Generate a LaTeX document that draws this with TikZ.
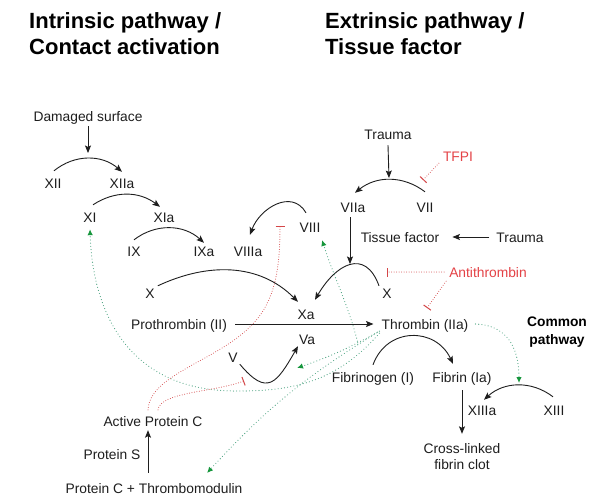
\documentclass[tikz,border=0pt]{standalone}
\usepackage{fontspec}
\setmainfont{Liberation Sans}
\usetikzlibrary{arrows.meta}
\definecolor{ink}{RGB}{30,30,30}
\definecolor{rtext}{RGB}{228,66,70}
\definecolor{rline}{RGB}{212,70,72}
\definecolor{gline}{RGB}{70,160,125}
\definecolor{gtip}{RGB}{22,150,60}
\begin{document}
\begin{tikzpicture}[x=1pt,y=-1pt,
  lbl/.style={inner sep=2pt,text height=10pt,text depth=0pt,font=\fontsize{13.8}{16}\selectfont,text=ink},
  rlbl/.style={lbl,text=rtext},
  ttl/.style={inner sep=0pt,anchor=base west,font=\fontsize{22}{26}\selectfont\bfseries,text=black},
  arr/.style={draw=ink,line width=0.9pt,-{Stealth[length=7.5pt,width=6pt,inset=1.5pt]}},
  gdot/.style={draw=gline,line width=1.1pt,line cap=round,dash pattern=on 0pt off 3.2pt,-{Latex[length=6pt,width=5.5pt,color=gtip]}},
  rdot/.style={draw=rline,line width=1pt,line cap=round,dash pattern=on 0pt off 2.5pt,-{Bar[width=9pt,line width=1pt]}}
]
\fill[white] (0,0) rectangle (603,496);
\useasboundingbox (0,0) rectangle (603,496);

% titles
\node[ttl] (t1a) at (29,28) {Intrinsic pathway /};
\node[ttl] (t1b) at (29,54) {Contact activation};
\node[ttl] (t2a) at (325,28) {Extrinsic pathway /};
\node[ttl] (t2b) at (325,54) {Tissue factor};

% intrinsic
\node[lbl] (ds) at (88,116) {Damaged surface};
\node[lbl] (xii) at (53,183) {XII};
\node[lbl] (xiia) at (122,183) {XIIa};
\node[lbl] (xi) at (90,217) {XI};
\node[lbl] (xia) at (164,217) {XIa};
\node[lbl] (ix) at (134,251) {IX};
\node[lbl] (ixa) at (204,251) {IXa};
\node[lbl] (viiia) at (248,251) {VIIIa};
\node[lbl] (viii) at (310,227) {VIII};
\node[lbl] (xl) at (150,293) {X};
\node[lbl] (xa) at (306,314) {Xa};
\node[lbl] (proth) at (179,324) {Prothrombin (II)};
\node[lbl] (thr) at (425,324) {Thrombin (IIa)};
\node[lbl] (va) at (307,339) {Va};
\node[lbl] (v) at (233,357) {V};
\node[lbl] (apc) at (153,421) {Active Protein C};
\node[lbl] (ps) at (112,454) {Protein S};
\node[lbl] (pctm) at (154,488) {Protein C + Thrombomodulin};

% extrinsic
\node[lbl] (trauma1) at (388,134) {Trauma};
\node[rlbl] (tfpi) at (458,156) {TFPI};
\node[lbl] (viia) at (353,207) {VIIa};
\node[lbl] (vii) at (425,207) {VII};
\node[lbl] (tf) at (400,237) {Tissue factor};
\node[lbl] (trauma2) at (520,237) {Trauma};
\node[rlbl] (at) at (488,272) {Antithrombin};
\node[lbl] (xr) at (387,293) {X};

% common
\node[lbl] (fgn) at (373,377) {Fibrinogen (I)};
\node[lbl] (fbn) at (462,377) {Fibrin (Ia)};
\node[lbl] (xiiia) at (482,410) {XIIIa};
\node[lbl] (xiii) at (554,410) {XIII};
\node[lbl] (clot1) at (462,448) {Cross-linked};
\node[lbl] (clot2) at (462,464) {fibrin clot};
\node[inner sep=0pt,align=center,font=\fontsize{13.8}{18}\selectfont\bfseries] (common) at (557,332) {Common\\pathway};

% free ends
\coordinate (dsend) at (88,153);
\coordinate (t1end) at (389,178);
\coordinate (viiaend) at (350,264);
\coordinate (tfpibar) at (423,180);
\coordinate (atbar1) at (387,272);
\coordinate (atbar2) at (427,308);
\coordinate (rbar1) at (280,226);
\coordinate (rbar2) at (244,381);
\coordinate (gva) at (297,368);
\coordinate (gpc) at (207,473);
\coordinate (gviii) at (322,240);
\coordinate (gxiii) at (519,383);

% black connectors
\draw[arr] ([yshift=-3pt]ds.south) -- (dsend);
\draw[arr] ([xshift=1pt,yshift=5pt]xii.north) to[bend left=40] ([yshift=4pt]xiia.north);
\draw[arr] ([xshift=3pt,yshift=5pt]xi.north) to[bend left=35] ([xshift=-4pt,yshift=3pt]xia.north);
\draw[arr] ([yshift=4pt]ix.north) to[bend left=40] ([yshift=1pt]ixa.north);
\draw[arr] ([xshift=-4pt,yshift=7pt]viii.north) to[out=120,in=70,looseness=1.2] ([xshift=2pt,yshift=9pt]viiia.north);
\draw[arr] ([yshift=-4pt]trauma1.south) -- (t1end);
\draw[arr] ([yshift=8pt]vii.north) to[bend right=38] ([xshift=2pt,yshift=7pt]viia.north);
\draw[arr] ([xshift=-3pt,yshift=-3pt]viia.south) -- (viiaend);
\draw[arr] ([xshift=-5pt]trauma2.west) -- ([xshift=11pt]tf.east);
\draw[arr] ([xshift=-8pt]xr.north) to[out=110,in=60,looseness=1.6] ([xshift=9pt,yshift=7pt]xa.north);
\draw[arr] ([xshift=1pt]xl.north east) to[out=25,in=135] ([xshift=-8pt,yshift=5pt]xa.north);
\draw[arr] ([xshift=6pt]proth.east) -- ([xshift=-6pt]thr.west);
\draw[arr] (v.south east) to[out=-50,in=-120,looseness=1.8] ([xshift=-9pt]va.south);
\draw[arr] ([yshift=5pt]fgn.north) to[out=70,in=115,looseness=1.3] ([xshift=-9pt,yshift=6pt]fbn.north);
\draw[arr] ([yshift=-6pt]fbn.south) -- ([yshift=7pt]clot1.north);
\draw[arr] ([xshift=-1pt,yshift=6pt]xiii.north) to[bend right=40] ([xshift=2pt,yshift=3pt]xiiia.north);
\draw[arr] ([xshift=-6pt,yshift=8pt]pctm.north) -- ([xshift=-5pt,yshift=-2pt]apc.south);

% green feedback
\draw[gdot] ([xshift=-2pt,yshift=-1pt]thr.south west) to[bend left=5] (gva);
\draw[gdot] ([yshift=-2pt]thr.south west) .. controls (340,378) and (300,391) .. (240,391)
   .. controls (120,393) and (92,300) .. ([yshift=-5pt]xi.south);
\draw[gdot] (thr.south west) to[bend right=8] (gpc);
\draw[gdot] ([xshift=-22pt,yshift=-10pt]thr.south west) to[out=105,in=-72] (gviii);
\draw[gdot] ([xshift=5pt]thr.east) .. controls (505,325) and (519,345) .. (gxiii);

% red inhibition
\draw[rdot] ([xshift=-2pt]tfpi.south west) -- (tfpibar);
\draw[rdot] ([xshift=-3pt]at.west) -- (atbar1);
\draw[rdot] ([xshift=-1pt,yshift=-2pt]at.south west) -- (atbar2);
\draw[rdot] ([xshift=-5pt,yshift=4pt]apc.north) .. controls (150,372) and (225,360) .. (258,318)
   .. controls (276,295) and (280,265) .. (rbar1);
\draw[rdot] ([xshift=5pt,yshift=4pt]apc.north) .. controls (160,392) and (215,392) .. (rbar2);
\end{tikzpicture}
\end{document}
